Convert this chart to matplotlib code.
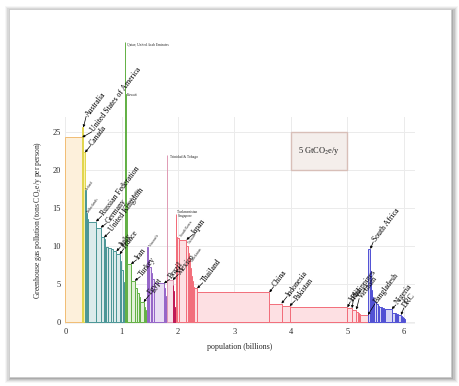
import numpy as np
import matplotlib
matplotlib.use("Agg")
import matplotlib.pyplot as plt
from matplotlib.patches import Rectangle

plt.rcParams["font.family"] = ["Liberation Serif", "DejaVu Serif"]
plt.rcParams["mathtext.fontset"] = "stix"

# per region: country, population (billions), emissions (t CO2e/y per person)
na_names = ["United States of America"]
na_pop = [0.30]
na_co2 = [24.3]

oc_names = ["Australia", "Canada"]
oc_pop = [0.02, 0.03]
oc_co2 = [25.6, 22.3]

eu_names = ["Ireland", "Netherlands", "Belgium", "Czech Republic", "Finland",
            "Russian Federation", "Germany", "United Kingdom", "Norway",
            "Greece", "Austria", "Poland", "Ukraine", "Spain", "Italy", "France",
            "Portugal", "Hungary", "Bulgaria", "Romania", "Switzerland", "Serbia",
            "Croatia", "Lithuania", "Albania", "Moldova", "Armenia"]
eu_pop = [0.010, 0.016, 0.010, 0.010, 0.005,
          0.145, 0.082, 0.060, 0.013,
          0.011, 0.008, 0.039, 0.049, 0.040, 0.058, 0.059,
          0.010, 0.010, 0.008, 0.022, 0.007, 0.010,
          0.005, 0.004, 0.003, 0.010, 0.005]
eu_co2 = [17.4, 14.3, 14.0, 13.6, 13.4,
          13.2, 12.4, 11.1, 10.9,
          10.0, 9.9, 9.8, 9.7, 9.6, 9.3, 8.9,
          8.4, 8.0, 7.4, 6.8, 6.0, 5.3,
          4.8, 4.3, 3.8, 3.6, 3.3]

me_names = ["Qatar", "United Arab Emirates", "Kuwait", "Saudi Arabia", "Oman",
            "Iran", "Turkey", "Algeria", "Iraq", "Syria", "Egypt",
            "Morocco", "Yemen", "Afghanistan"]
me_pop = [0.003, 0.003, 0.003, 0.022, 0.008, 0.066, 0.068, 0.040, 0.030,
          0.020, 0.068, 0.029, 0.018, 0.012]
me_co2 = [36.8, 32.7, 30.0, 15.5, 8.8, 7.6, 5.4, 4.4, 3.8, 3.3, 2.6, 2.0, 1.5, 0.9]

la_names = ["Venezuela", "Chile", "Argentina", "Ecuador", "Colombia", "Brazil",
            "Peru", "Cuba", "Bolivia", "Paraguay", "Uruguay"]
la_pop = [0.024, 0.015, 0.037, 0.012, 0.043, 0.170, 0.026, 0.011, 0.009, 0.006, 0.004]
la_co2 = [9.9, 8.1, 7.2, 6.4, 5.6, 5.05, 4.4, 3.4, 2.8, 2.2, 1.9]

ca_names = ["Trinidad & Tobago", "Mexico"]
ca_pop = [0.004, 0.095]
ca_co2 = [22.0, 5.5]

cb_names = ["Guatemala", "Honduras", "Nicaragua", "El Salvador", "Panama",
            "Jamaica", "Costa Rica", "Dominican Republic", "Haiti"]
cb_pop = [0.011, 0.006, 0.005, 0.006, 0.003, 0.003, 0.004, 0.008, 0.008]
cb_co2 = [4.8, 4.0, 3.6, 2.8, 2.3, 1.9, 1.6, 1.3, 0.8]

as_names = ["Turkmenistan", "Singapore", "Israel", "South Korea", "Japan", "Taiwan",
            "Malaysia", "Kazakhstan", "North Korea", "Uzbekistan", "Azerbaijan",
            "Hong Kong", "Mongolia", "Georgia", "Thailand", "China", "Indonesia",
            "Pakistan", "India", "Philippines", "Vietnam", "Nepal", "Cambodia",
            "Laos", "Myanmar", "Bangladesh"]
as_pop = [0.005, 0.004, 0.006, 0.047, 0.127, 0.022, 0.023, 0.015, 0.022, 0.025,
          0.008, 0.007, 0.003, 0.005, 0.061, 1.280, 0.215, 0.145, 1.025, 0.080,
          0.078, 0.023, 0.012, 0.005, 0.025, 0.140]
as_co2 = [14.2, 13.7, 11.2, 11.0, 10.8, 10.0, 9.0, 8.2, 7.1, 6.0, 5.4, 5.0, 4.8,
          4.6, 4.4, 3.87, 2.4, 2.07, 1.9, 1.8, 1.6, 1.3, 1.2, 1.1, 1.0, 0.9]

af_names = ["South Africa", "Zambia", "Zimbabwe", "Angola", "Cameroon", "Ivory Coast",
            "Tanzania", "Sudan", "Madagascar", "Kenya", "Ghana", "Uganda",
            "Mozambique", "Mali", "Nigeria", "Ethiopia", "Burkina Faso", "Malawi",
            "Senegal", "Chad", "Guinea", "DRC", "Rwanda", "Burundi", "Somalia",
            "Togo", "Eritrea", "Niger", "Sierra Leone", "Liberia", "Central African Rep."]
af_pop = [0.044, 0.010, 0.013, 0.013, 0.015, 0.016, 0.034, 0.032, 0.016, 0.031,
          0.020, 0.024, 0.018, 0.011, 0.125, 0.066, 0.012, 0.011, 0.010, 0.008,
          0.008, 0.050, 0.008, 0.007, 0.010, 0.005, 0.004, 0.012, 0.006, 0.004, 0.006]
af_co2 = [9.6, 6.7, 4.2, 3.8, 3.3, 3.0, 2.6, 2.3, 2.1, 2.0, 1.9, 1.8, 1.75, 1.7,
          1.67, 1.15, 1.1, 1.05, 1.0, 1.0, 0.95, 0.9, 0.8, 0.7, 0.65, 0.6, 0.55,
          0.5, 0.45, 0.4, 0.35]

# (names, pop, co2, face, edge)
regions = [
    (na_names, na_pop, na_co2, "#fdf0db", "#f1bd74"),
    (oc_names, oc_pop, oc_co2, "#f6f1a8", "#e2d54c"),
    (eu_names, eu_pop, eu_co2, "#dcebeb", "#4a9696"),
    (me_names, me_pop, me_co2, "#e2f1d9", "#62b044"),
    (la_names, la_pop, la_co2, "#e9ddf4", "#9565c8"),
    (ca_names, ca_pop, ca_co2, "#f7e0e8", "#e09ab4"),
    (cb_names, cb_pop, cb_co2, "#d44a7a", "#c01a56"),
    (as_names, as_pop, as_co2, "#fde0e3", "#f26d7a"),
    (af_names, af_pop, af_co2, "#d6d6f5", "#5050d4"),
]

# labelled countries -> arrow offset (points) from bar corner to text
big_labels = {
    "Australia": (2, 8), "United States of America": (7, 4), "Canada": (4, 5),
    "Russian Federation": (4, 4), "Germany": (4, 3), "United Kingdom": (4, 4),
    "Italy": (3, 3), "France": (3, 4), "Iran": (4, 3), "Turkey": (4, 3),
    "Egypt": (4, 5), "Brazil": (4, 3), "Mexico": (4, 4), "Japan": (5, 4),
    "Thailand": (4, 4), "China": (3, 4), "Indonesia": (4, 5), "Pakistan": (4, 4),
    "India": (2, 4), "Philippines": (1, 6), "Vietnam": (2, 8),
    "Bangladesh": (5, 8), "South Africa": (2, 5), "Nigeria": (3, 3), "DRC": (2, 5),
}
# tiny labels: x, y, rotation
small_labels = {
    "Qatar; United Arab Emirates": (1.10, 36.5, 0),
    "Kuwait": (1.10, 29.9, 0),
    "Trinidad & Tobago": (1.85, 21.7, 0),
    "Turkmenistan": (1.98, 14.5, 0),
    "Singapore": (2.0, 13.95, 0),
    "Ireland": (0.38, 17.4, 55),
    "Netherlands": (0.41, 14.4, 55),
    "Saudi Arabia": (1.12, 15.4, 55),
    "Venezuela": (1.51, 9.9, 55),
    "South Korea": (2.06, 11.2, 55),
    "Taiwan": (2.2, 10.3, 55),
    "Uzbekistan": (2.25, 8.0, 55),
}

fig = plt.figure(figsize=(4.6, 3.86), dpi=100)
fig.patch.set_facecolor("white")
# card with soft drop shadow
for i, a in enumerate([0.06, 0.09, 0.13, 0.18, 0.25]):
    g = (5 - i) * 0.0024
    fig.patches.append(Rectangle((0.0203 - g + 0.003, 0.024 - g - 0.004),
                                 0.96 + 2 * g, 0.952 + 2 * g,
                                 transform=fig.transFigure, facecolor="#666666",
                                 edgecolor="none", alpha=a, zorder=-3))
fig.patches.append(Rectangle((0.0203, 0.024), 0.96, 0.952, transform=fig.transFigure,
                             facecolor="white", edgecolor="#c8c8c8", linewidth=0.5,
                             zorder=-2))

ax = fig.add_axes([0.142, 0.1606, 0.760, 0.5368])
ax.set_facecolor("none")
ax.set_xlim(0, 6.2)
ax.set_ylim(-0.3, 27)
for s in ax.spines.values():
    s.set_visible(False)
ax.set_xticks(range(7))
ax.set_yticks(range(0, 26, 5))
ax.tick_params(length=0, labelsize=6, colors="#2a2a2a", pad=3)
ax.grid(True, color="#ebebeb", linewidth=0.7)
ax.set_axisbelow(True)
ax.axhspan(-0.3, 0, color="#f2f2f2", lw=0, zorder=0)

corner = {}
start = 0.0
for names, pop, co2, face, edge in regions:
    pop = np.array(pop)
    lefts = start + np.concatenate([[0], np.cumsum(pop)[:-1]])
    ax.bar(lefts, co2, width=pop, align="edge", color=face, edgecolor=edge,
           linewidth=0.7, clip_on=False, zorder=2)
    for n, l, w, v in zip(names, lefts, pop, co2):
        corner[n] = (l + w, v)
    start += pop.sum()

for name, (dx, dy) in big_labels.items():
    x, v = corner[name]
    ax.annotate("", xy=(x, v), xytext=(dx, dy), textcoords="offset points",
                arrowprops=dict(arrowstyle="-|>", color="black", lw=0.5,
                                mutation_scale=3.5, shrinkA=0, shrinkB=0), zorder=5)
    ax.annotate(name, xy=(x, v), xytext=(dx + 0.5, dy + 0.7), textcoords="offset points",
                rotation=53, rotation_mode="anchor", ha="left", va="center",
                fontsize=5.6, color="black", zorder=5, annotation_clip=False)

for name, (x, y, r) in small_labels.items():
    ax.text(x, y, name, fontsize=2.6, rotation=r, rotation_mode="anchor",
            ha="left", va="center", color="#222222", zorder=5, clip_on=False)

ax.add_patch(Rectangle((4, 20), 1, 5, facecolor="#f4eeeb", edgecolor="#d8bfb8",
                       linewidth=1, zorder=3))
ax.text(4.5, 22.5, "5 GtCO$_2$e/y", ha="center", va="center", fontsize=6,
        color="#222222", zorder=4)

ax.set_xlabel("population (billions)", fontsize=5.8, color="#2a2a2a", labelpad=5)
ax.set_ylabel("Greenhouse gas pollution (tons CO$_2$e/y per person)", fontsize=5.5,
              color="#2a2a2a", labelpad=6)

fig.savefig("out.png", dpi=100)
